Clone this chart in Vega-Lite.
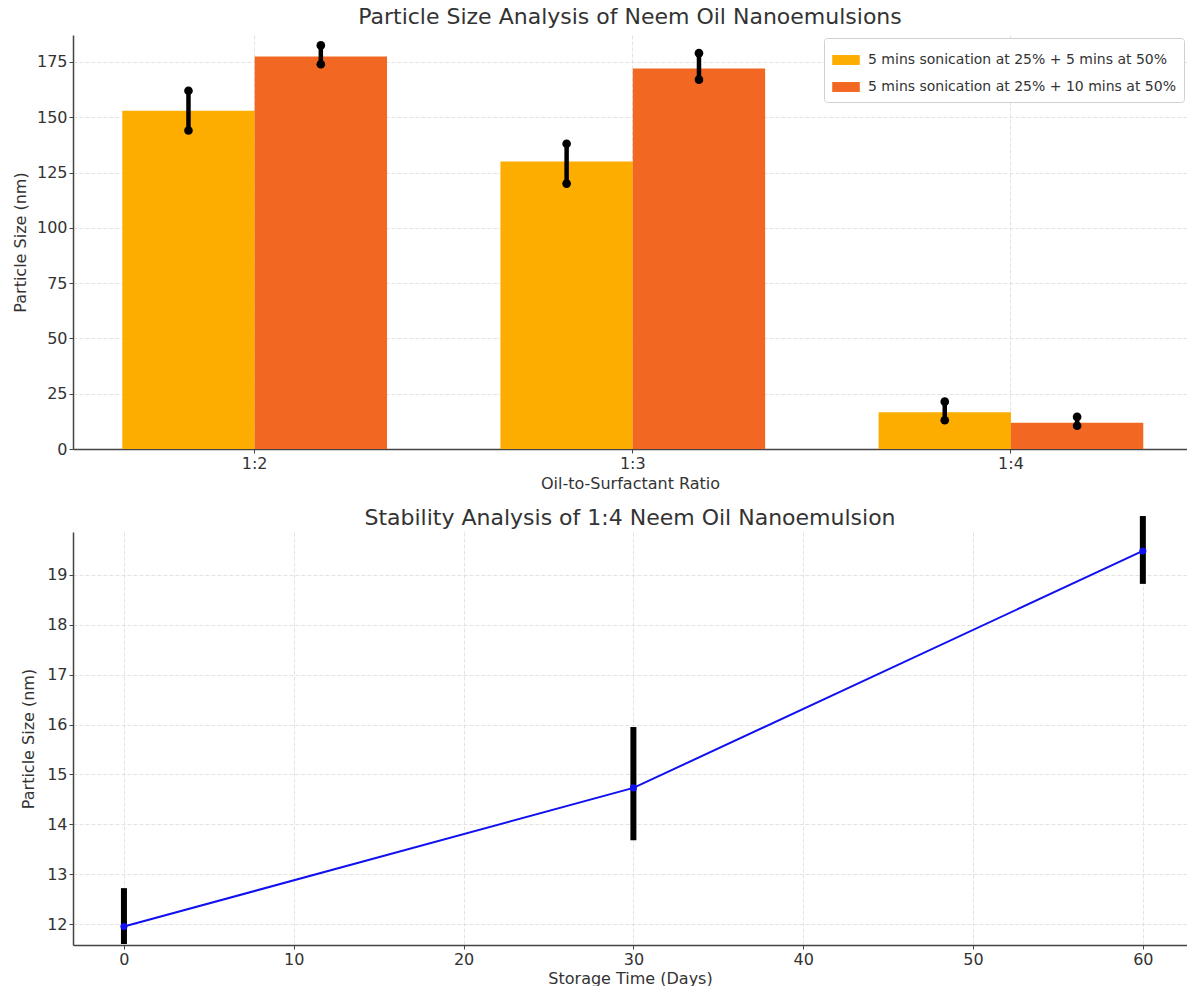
{
  "$schema": "https://vega.github.io/schema/vega-lite/v6.json",
  "padding": {"left": 12, "top": 6, "right": 0, "bottom": 0},
  "background": "white",
  "datasets": {
    "bars": [
      {"ratio": "1:2", "treatment": "5 mins sonication at 25% + 5 mins at 50%", "size": 153, "low": 144, "high": 162},
      {"ratio": "1:2", "treatment": "5 mins sonication at 25% + 10 mins at 50%", "size": 177.5, "low": 174, "high": 182.5},
      {"ratio": "1:3", "treatment": "5 mins sonication at 25% + 5 mins at 50%", "size": 130, "low": 120, "high": 138},
      {"ratio": "1:3", "treatment": "5 mins sonication at 25% + 10 mins at 50%", "size": 172, "low": 167, "high": 179},
      {"ratio": "1:4", "treatment": "5 mins sonication at 25% + 5 mins at 50%", "size": 16.6, "low": 13, "high": 21.4},
      {"ratio": "1:4", "treatment": "5 mins sonication at 25% + 10 mins at 50%", "size": 11.9, "low": 10.5, "high": 14.5}
    ],
    "stability": [
      {"day": 0, "size": 11.95, "low": 11.6, "high": 12.72},
      {"day": 30, "size": 14.73, "low": 13.68, "high": 15.95},
      {"day": 60, "size": 19.48, "low": 18.82, "high": 20.18}
    ]
  },
  "config": {
    "view": {"stroke": null},
    "font": "DejaVu Sans",
    "axis": {
      "labelFont": "DejaVu Sans",
      "titleFont": "DejaVu Sans",
      "labelFontSize": 16,
      "titleFontSize": 16,
      "titleFontWeight": "normal",
      "labelColor": "#333333",
      "titleColor": "#333333",
      "domainColor": "#444444",
      "domainWidth": 1.5,
      "tickColor": "#444444",
      "tickSize": 4,
      "gridColor": "#dcdcdc",
      "gridDash": [4, 2],
      "gridWidth": 0.8
    },
    "title": {"font": "DejaVu Sans", "fontSize": 22, "fontWeight": "normal", "color": "#333333", "anchor": "middle", "frame": "group"},
    "legend": {"labelFont": "DejaVu Sans", "labelFontSize": 14, "labelColor": "#333333", "labelLimit": 500}
  },
  "vconcat": [
    {
      "width": 1114,
      "height": 414,
      "title": {"text": "Particle Size Analysis of Neem Oil Nanoemulsions", "offset": 6},
      "data": {"name": "bars"},
      "encoding": {
        "x": {"field": "ratio", "type": "nominal", "title": "Oil-to-Surfactant Ratio",
              "scale": {"paddingInner": 0.3, "paddingOuter": 0.123, "align": 0.53},
              "axis": {"labelAngle": 0, "grid": true, "titlePadding": 4, "labelPadding": 2}},
        "xOffset": {"field": "treatment", "type": "nominal",
                    "sort": ["5 mins sonication at 25% + 5 mins at 50%", "5 mins sonication at 25% + 10 mins at 50%"],
                    "scale": {"paddingInner": 0, "paddingOuter": 0}}
      },
      "layer": [
        {
          "mark": {"type": "bar"},
          "encoding": {
            "y": {"field": "size", "type": "quantitative", "title": "Particle Size (nm)",
                  "scale": {"domain": [0, 187.2], "nice": false},
                  "axis": {"values": [0, 25, 50, 75, 100, 125, 150, 175], "grid": true, "titlePadding": 8, "labelPadding": 2}},
            "color": {"field": "treatment", "type": "nominal",
                      "scale": {"domain": ["5 mins sonication at 25% + 5 mins at 50%", "5 mins sonication at 25% + 10 mins at 50%"],
                                "range": ["#FDAC00", "#F26822"]},
                      "legend": {"title": null, "orient": "top-right", "offset": 3, "padding": 8,
                                 "strokeColor": "#d0d0d0", "fillColor": "white", "cornerRadius": 3,
                                 "symbolType": "M-1,-0.36H1V0.36H-1Z", "symbolSize": 760, "symbolStrokeWidth": 0,
                                 "rowPadding": 6, "labelOffset": 8}}
          }
        },
        {
          "mark": {"type": "rule", "color": "black", "strokeWidth": 4.5},
          "encoding": {"y": {"field": "low", "type": "quantitative"}, "y2": {"field": "high"}}
        },
        {
          "mark": {"type": "point", "filled": true, "color": "black", "size": 75, "opacity": 1},
          "encoding": {"y": {"field": "low", "type": "quantitative"}}
        },
        {
          "mark": {"type": "point", "filled": true, "color": "black", "size": 75, "opacity": 1},
          "encoding": {"y": {"field": "high", "type": "quantitative"}}
        }
      ]
    },
    {
      "width": 1114,
      "height": 413,
      "title": {"text": "Stability Analysis of 1:4 Neem Oil Nanoemulsion", "offset": -17},
      "data": {"name": "stability"},
      "encoding": {
        "x": {"field": "day", "type": "quantitative", "title": "Storage Time (Days)",
              "scale": {"domain": [-3, 62.6], "nice": false, "zero": false},
              "axis": {"values": [0, 10, 20, 30, 40, 50, 60], "grid": true, "titlePadding": 3, "labelPadding": 2}}
      },
      "layer": [
        {
          "mark": {"type": "rule", "color": "black", "strokeWidth": 6},
          "encoding": {
            "y": {"field": "low", "type": "quantitative", "title": "Particle Size (nm)",
                  "scale": {"domain": [11.58, 19.86], "nice": false, "zero": false},
                  "axis": {"values": [12, 13, 14, 15, 16, 17, 18, 19], "grid": true, "titlePadding": 10, "labelPadding": 2}},
            "y2": {"field": "high"}
          }
        },
        {
          "mark": {"type": "line", "color": "#1010f0", "strokeWidth": 2},
          "encoding": {"y": {"field": "size", "type": "quantitative"}}
        },
        {
          "mark": {"type": "point", "filled": true, "color": "#1010f0", "size": 50, "opacity": 1},
          "encoding": {"y": {"field": "size", "type": "quantitative"}}
        }
      ]
    }
  ],
  "spacing": 16
}
